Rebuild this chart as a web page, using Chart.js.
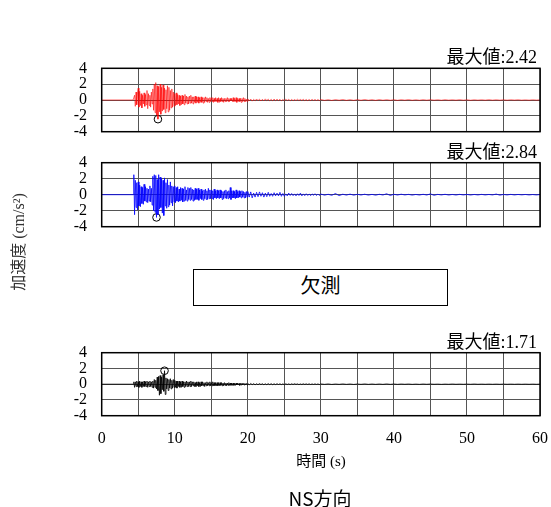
<!DOCTYPE html>
<html>
<head>
<meta charset="utf-8">
<script src="https://cdn.jsdelivr.net/npm/chart.js@4"></script>
<style>
  body { margin: 0; background: #fff; }
  #wrap { position: relative; width: 551px; height: 507px; background: #fff; overflow: hidden; }
  canvas { position: absolute; left: 0; }
  .txt { position: absolute; text-align: center; white-space: nowrap; color: #000; }
</style>
</head>
<body>
<div id="wrap">
  <canvas id="ch1" width="551" height="105" style="top:40px"></canvas>
  <canvas id="ch2" width="551" height="105" style="top:140px"></canvas>
  <canvas id="ch3" width="551" height="120" style="top:330px"></canvas>
  <div class="txt" style="left:-83px;top:230px;width:200px;line-height:20px;transform:rotate(-90deg);font:16px 'Liberation Serif','Noto Sans CJK JP',serif;color:#333">加速度 (cm/s²)</div>
  <div class="txt" style="left:193px;top:269px;width:255px;height:37px;box-sizing:border-box;border:1.5px solid #000;line-height:34px;font:400 20px 'Noto Sans CJK JP',sans-serif">欠測</div>
  <div class="txt" style="left:221px;top:449px;width:200px;line-height:18px;font:15px 'Liberation Serif','Noto Sans CJK JP',serif">時間 (s)</div>
  <div class="txt" style="left:220px;top:484px;width:200px;line-height:24px;font:400 19px 'Noto Sans CJK JP',sans-serif">NS方向</div>
</div>
<script>
// 軸
const xMin = 0, xMax = 60, xStep = 5;
const yMin = -4, yMax = 4, yStep = 2;
const xTickLabels = [0, 10, 20, 30, 40, 50, 60];
const yTickLabels = [4, 2, 0, -2, -4];

// サンプリング (s)
const recordStart = 0;
const earlyStart = 4.3, earlyStep = 0.1;   // 4.3 - 19.9 s
const midStart = 20.0, midStep = 0.2;      // 20 - 29.8 s
const lateStart = 30.0, lateStep = 0.5;    // 30 - 60 s

// 1段目 (赤)
const redEarly = [
  0,
  0, 0.6, -0.8, 1.0, -0.6, 0.9,
  1.5, -0.9, 1.1, -0.7, 0.8, -1.0, 0.6, -0.5, 0.9, -0.8,
  0.7, -0.6, 1.2, -1.1, 0.8, -0.7, 0.6, -0.9, 1.0, -0.5,
  1.4, -1.3, 2.0, -1.6, 2.2, -1.9, 1.8, -2.42, 1.7, -1.5,
  2.0, -1.8, 1.6, -1.4, 1.9, -1.2, 1.5, -1.6, 1.3, -1.1,
  1.8, -1.5, 1.6, -1.3, 1.2, -1.0, 1.4, -0.9, 1.0, -0.8,
  0.8, -0.7, 0.9, -0.6, 0.7, -0.5, 0.6, -0.7, 0.5, -0.6,
  0.6, -0.5, 0.5, -0.6, 0.7, -0.4, 0.5, -0.5, 0.4, -0.5,
  0.5, -0.4, 0.6, -0.4, 0.4, -0.5, 0.4, -0.3, 0.5, -0.4,
  0.4, -0.3, 0.4, -0.4, 0.3, -0.3, 0.4, -0.3, 0.3, -0.4,
  0.3, -0.3, 0.4, -0.2, 0.3, -0.3, 0.2, -0.3, 0.3, -0.2,
  0.3, -0.2, 0.3, -0.3, 0.2, -0.2, 0.3, -0.2, 0.2, -0.3,
  0.3, -0.3, 0.2, -0.2, 0.3, -0.2, 0.2, -0.3, 0.2, -0.2,
  0.2, -0.2, 0.3, -0.2, 0.2, -0.2, 0.2, -0.1, 0.2, -0.2,
  0.3, -0.2, 0.2, -0.2, 0.3, -0.3, 0.2, -0.2, 0.2, -0.2,
  0.2, -0.3, 0.2, -0.2, 0.3, -0.2, 0.2, -0.2, 0.1, -0.2
];
const redMid = [
  0.15, -0.1, 0.12, -0.14, 0.08, -0.1, 0.13, -0.08, 0.1, -0.12,
  0.09, -0.11, 0.14, -0.07, 0.1, -0.09, 0.08, -0.1, 0.12, -0.08,
  0.1, -0.07, 0.09, -0.1, 0.07, -0.08, 0.1, -0.06, 0.08, -0.09,
  0.07, -0.08, 0.06, -0.07, 0.09, -0.06, 0.07, -0.05, 0.08, -0.07,
  0.06, -0.07, 0.05, -0.06, 0.07, -0.05, 0.06, -0.06, 0.05, -0.06
];
const redLate = [
  0.05, -0.04, 0.03, -0.05, 0.04, -0.03, 0.05, -0.04, 0.03, -0.04,
  0.04, -0.03, 0.05, -0.03, 0.03, -0.04, 0.04, -0.03, 0.03, -0.03,
  0.03, -0.04, 0.03, -0.02, 0.04, -0.03, 0.02, -0.03, 0.03, -0.02,
  0.03, -0.02, 0.02, -0.03, 0.03, -0.02, 0.02, -0.02, 0.03, -0.02,
  0.02, -0.03, 0.02, -0.02, 0.02, -0.02, 0.03, -0.02, 0.02, -0.02,
  0.02, -0.02, 0.02, -0.01, 0.02, -0.02, 0.01, -0.02, 0.02, -0.01,
  0.01
];

// 2段目 (青)
const blueEarly = [
  0,
  2.5, -2.5, 1.8, -1.6, 1.5, -1.9,
  1.6, -1.4, 1.2, -1.5, 1.0, -1.1, 0.9, -1.2, 1.3, -0.8,
  1.0, -0.9, 0.8, -1.0, 0.7, -0.8, 1.1, -0.9, 0.8, -1.3,
  2.3, -2.0, 2.5, -2.2, 2.4, -2.84, 1.9, -2.5, 2.5, -1.8,
  2.2, -1.6, 2.0, -2.3, 1.8, -2.6, 2.1, -1.4, 1.5, -1.7,
  1.9, -1.5, 1.2, -1.3, 1.6, -1.0, 1.1, -1.4, 1.0, -0.9,
  1.1, -1.0, 0.9, -0.8, 1.0, -0.9, 0.7, -0.8, 0.9, -0.7,
  0.8, -0.9, 0.7, -0.8, 1.0, -0.7, 0.6, -0.8, 0.9, -0.6,
  0.8, -0.7, 0.9, -0.6, 0.7, -0.8, 0.6, -0.7, 0.8, -0.6,
  0.7, -0.6, 0.8, -0.7, 0.6, -0.5, 0.7, -0.6, 0.5, -0.7,
  0.6, -0.5, 0.7, -0.6, 0.5, -0.6, 0.8, -0.5, 0.6, -0.5,
  0.6, -0.5, 0.5, -0.6, 0.7, -0.4, 0.5, -0.5, 0.6, -0.4,
  0.5, -0.5, 0.6, -0.4, 0.5, -0.6, 0.4, -0.5, 0.5, -0.4,
  0.6, -0.5, 0.4, -0.5, 0.5, -0.4, 0.9, -0.6, 0.5, -0.4,
  0.5, -0.4, 0.4, -0.5, 0.6, -0.4, 0.4, -0.4, 0.5, -0.3,
  0.4, -0.4, 0.5, -0.3, 0.4, -0.4, 0.3, -0.4, 0.4, -0.3
];
const blueMid = [
  0.4, -0.3, 0.35, -0.4, 0.2, -0.3, 0.3, -0.25, 0.35, -0.2,
  0.25, -0.3, 0.2, -0.25, 0.3, -0.2, 0.15, -0.2, 0.25, -0.15,
  0.2, -0.15, 0.3, -0.2, 0.15, -0.2, 0.1, -0.15, 0.2, -0.1,
  0.15, -0.12, 0.1, -0.15, 0.12, -0.1, 0.2, -0.15, 0.1, -0.12,
  0.12, -0.1, 0.08, -0.12, 0.1, -0.08, 0.12, -0.1, 0.08, -0.1
];
const blueLate = [
  0.08, -0.06, 0.05, -0.08, 0.15, -0.12, 0.06, -0.05, 0.07, -0.06,
  0.05, -0.04, 0.06, -0.05, 0.04, -0.06, 0.05, -0.04, 0.12, -0.1,
  0.05, -0.04, 0.06, -0.03, 0.04, -0.05, 0.03, -0.04, 0.05, -0.04,
  0.1, -0.08, 0.04, -0.03, 0.05, -0.04, 0.03, -0.04, 0.04, -0.03,
  0.03, -0.04, 0.03, -0.03, 0.04, -0.03, 0.03, -0.03, 0.08, -0.06,
  0.03, -0.03, 0.04, -0.03, 0.03, -0.02, 0.03, -0.03, 0.02, -0.03,
  0.02
];

// 4段目 (黒)
const blackEarly = [
  0,
  0.3, -0.4, 0.3, -0.3, 0.4, -0.3,
  0.3, -0.4, 0.4, -0.3, 0.3, -0.4, 0.3, -0.3, 0.4, -0.3,
  0.3, -0.3, 0.4, -0.4, 0.3, -0.3, 0.4, -0.3, 0.3, -0.4,
  0.4, -0.5, 0.6, -0.4, 0.5, -0.6, 0.9, -0.8, 1.0, -1.4,
  1.1, -1.2, 0.9, -0.7, 1.2, -0.9, 1.71, -1.3, 0.8, -0.6,
  0.7, -0.8, 0.6, -0.5, 0.7, -0.6, 0.5, -0.5, 0.6, -0.4,
  0.5, -0.4, 0.4, -0.5, 0.4, -0.3, 0.4, -0.4, 0.3, -0.4,
  0.4, -0.3, 0.3, -0.4, 0.3, -0.3, 0.4, -0.3, 0.3, -0.3,
  0.3, -0.3, 0.4, -0.3, 0.3, -0.2, 0.3, -0.3, 0.2, -0.3,
  0.3, -0.2, 0.3, -0.3, 0.2, -0.3, 0.3, -0.2, 0.3, -0.2,
  0.2, -0.3, 0.2, -0.2, 0.3, -0.2, 0.2, -0.2, 0.3, -0.2,
  0.2, -0.2, 0.3, -0.2, 0.2, -0.2, 0.2, -0.2, 0.2, -0.2,
  0.2, -0.2, 0.2, -0.15, 0.2, -0.2, 0.15, -0.2, 0.2, -0.15,
  0.15, -0.2, 0.15, -0.15, 0.2, -0.15, 0.15, -0.15, 0.15, -0.15,
  0.15, -0.15, 0.1, -0.15, 0.15, -0.1, 0.15, -0.1, 0.1, -0.15,
  0.1, -0.1, 0.15, -0.1, 0.1, -0.1, 0.1, -0.1, 0.1, -0.1
];
const blackMid = [
  0.08, -0.07, 0.09, -0.06, 0.07, -0.08, 0.06, -0.07, 0.08, -0.05,
  0.06, -0.07, 0.05, -0.06, 0.07, -0.05, 0.06, -0.06, 0.05, -0.05,
  0.06, -0.04, 0.05, -0.05, 0.04, -0.06, 0.05, -0.04, 0.04, -0.05,
  0.05, -0.04, 0.06, -0.03, 0.04, -0.05, 0.03, -0.04, 0.05, -0.03,
  0.04, -0.03, 0.04, -0.04, 0.03, -0.03, 0.04, -0.03, 0.03, -0.04
];
const blackLate = [
  0.03, -0.02, 0.03, -0.03, 0.02, -0.02, 0.03, -0.02, 0.02, -0.03,
  0.02, -0.02, 0.03, -0.02, 0.02, -0.02, 0.02, -0.02, 0.03, -0.02,
  0.02, -0.02, 0.02, -0.01, 0.02, -0.02, 0.01, -0.02, 0.02, -0.01,
  0.02, -0.01, 0.01, -0.02, 0.01, -0.01, 0.02, -0.01, 0.01, -0.01,
  0.01, -0.01, 0.02, -0.01, 0.01, -0.01, 0.01, -0.01, 0.01, -0.01,
  0.01, -0.01, 0.01, -0.01, 0.01, -0.01, 0.01, -0.01, 0.01, -0.01,
  0.01
];

const serif = '"Liberation Serif", "Noto Sans CJK JP", serif';

function toPoints(early, mid, late) {
  const pts = [{ x: recordStart, y: 0 }];
  early.forEach((v, i) => pts.push({ x: +(earlyStart + i * earlyStep).toFixed(2), y: v }));
  mid.forEach((v, i) => pts.push({ x: +(midStart + i * midStep).toFixed(2), y: v }));
  late.forEach((v, i) => pts.push({ x: +(lateStart + i * lateStep).toFixed(2), y: v }));
  return pts;
}

const framePlugin = {
  id: "frame",
  afterDatasetsDraw(chart) {
    const a = chart.chartArea, ctx = chart.ctx;
    ctx.save();
    ctx.strokeStyle = "#000";
    ctx.lineWidth = 1.5;
    ctx.strokeRect(a.left, a.top, a.right - a.left, a.bottom - a.top);
    ctx.restore();
  },
  afterDraw(chart) {
    const a = chart.chartArea, ctx = chart.ctx;
    const peak = chart.options.plugins.frame.peak;
    ctx.save();
    ctx.fillStyle = "#000";
    ctx.font = "18px " + serif;
    ctx.textAlign = "right";
    ctx.textBaseline = "alphabetic";
    ctx.fillText("最大値:" + Math.abs(peak).toFixed(2), a.right - 3, a.top - 5);
    ctx.restore();
  }
};

// area: 描画領域 (canvas 内座標), xh: x 軸の高さ
function makePanel(id, early, mid, late, color, width, area, xh) {
  const canvas = document.getElementById(id);
  const pts = toPoints(early, mid, late);
  let pk = pts[0];
  pts.forEach(p => { if (Math.abs(p.y) > Math.abs(pk.y)) pk = p; });
  const pad = {
    left: 0,
    right: canvas.width - area.right,
    top: area.top,
    bottom: canvas.height - area.bottom - xh,
  };
  new Chart(canvas, {
    type: "line",
    data: {
      datasets: [
        {
          data: pts,
          borderColor: color,
          borderWidth: width,
          pointRadius: 0,
          tension: 0,
        },
        {
          data: [pk],
          showLine: false,
          pointRadius: 3.8,
          pointBorderColor: "#000",
          pointBackgroundColor: "rgba(0,0,0,0)",
          pointBorderWidth: 1,
          clip: false,
        },
      ],
    },
    options: {
      responsive: false,
      animation: false,
      layout: { padding: pad },
      plugins: { legend: { display: false }, tooltip: { enabled: false }, frame: { peak: pk.y } },
      scales: {
        x: {
          type: "linear",
          min: xMin, max: xMax,
          border: { display: false },
          grid: { color: "#555", lineWidth: 1, drawTicks: false },
          ticks: {
            display: xh > 0,
            stepSize: xStep,
            autoSkip: false,
            maxRotation: 0,
            padding: 13,
            color: "#000",
            font: { family: serif, size: 16 },
            callback: v => (xTickLabels.includes(v) ? String(v) : ""),
          },
          afterFit: s => { s.height = xh; s.paddingLeft = 0; s.paddingRight = 0; s.paddingTop = 0; s.paddingBottom = 0; },
        },
        y: {
          min: yMin, max: yMax,
          border: { display: false },
          grid: { color: "#555", lineWidth: 1, drawTicks: false },
          ticks: {
            stepSize: yStep,
            autoSkip: false,
            padding: 14.7,
            color: "#000",
            font: { family: serif, size: 16 },
            callback: v => (yTickLabels.includes(v) ? String(v) : ""),
          },
          afterFit: s => { s.width = area.left; s.paddingTop = 0; s.paddingBottom = 0; s.paddingLeft = 0; s.paddingRight = 0; },
        },
      },
    },
    plugins: [framePlugin],
  });
}

makePanel("ch1", redEarly, redMid, redLate, "#ff0000", 0.6, { left: 101.7, right: 540, top: 28.3, bottom: 91.7 }, 0);
makePanel("ch2", blueEarly, blueMid, blueLate, "#0000ff", 0.8, { left: 101.7, right: 540, top: 22.7, bottom: 86.7 }, 0);
makePanel("ch3", blackEarly, blackMid, blackLate, "#000000", 0.8, { left: 101.7, right: 540, top: 22.7, bottom: 85.7 }, 30);
</script>
</body>
</html>
